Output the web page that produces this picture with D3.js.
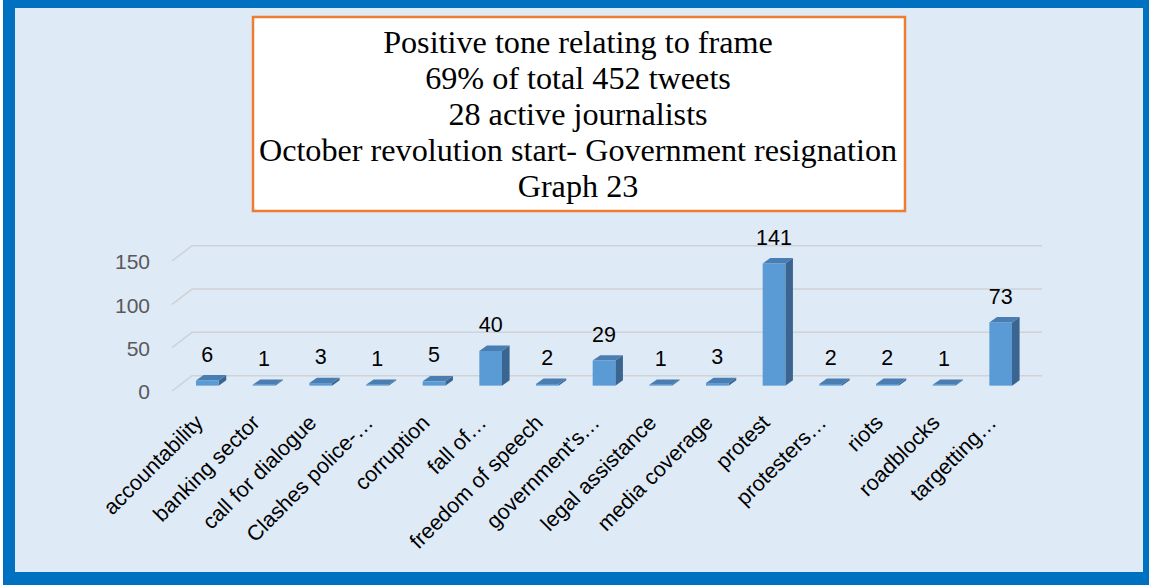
<!DOCTYPE html>
<html>
<head>
<meta charset="utf-8">
<script src="https://cdn.jsdelivr.net/npm/d3@7"></script>
<style>
  html, body { margin: 0; padding: 0; background: #ffffff; }
  svg { display: block; }
</style>
</head>
<body>
<script>
// ---- data ----
const categories = [
  "accountability", "banking sector", "call for dialogue", "Clashes police-…",
  "corruption", "fall of…", "freedom of speech", "government's…",
  "legal assistance", "media coverage", "protest", "protesters…",
  "riots", "roadblocks", "targetting…"
];
const values = [6, 1, 3, 1, 5, 40, 2, 29, 1, 3, 141, 2, 2, 1, 73];
const yTicks = [0, 50, 100, 150];
const titleLines = [
  "Positive tone relating to frame",
  "69% of total 452 tweets",
  "28 active journalists",
  "October revolution start- Government resignation",
  "Graph 23"
];

// ---- drawing ----
const W = 1149, H = 585;
const svg = d3.select("body").append("svg").attr("width", W).attr("height", H);

// frame
svg.append("rect").attr("x", 3).attr("y", 0).attr("width", W - 3).attr("height", H).attr("fill", "#0070C0");
svg.append("rect").attr("x", 15).attr("y", 8).attr("width", 1128).attr("height", 564).attr("fill", "#DEEAF6");

// title box
svg.append("rect").attr("x", 253).attr("y", 17).attr("width", 652).attr("height", 194)
  .attr("fill", "#ffffff").attr("stroke", "#ED7D31").attr("stroke-width", 2.5);
const title = svg.append("g");
titleLines.forEach((t, i) => {
  title.append("text")
    .attr("x", 578).attr("y", 53 + i * 36)
    .attr("text-anchor", "middle")
    .attr("font-family", "'Liberation Serif', 'Times New Roman', serif")
    .attr("font-size", 32.2).attr("fill", "#000")
    .text(t);
});

// chart geometry
const x0 = 172, x1 = 1022;
const depthX = 20, depthY = -15.3;
const x = d3.scaleBand().domain(categories).range([x0, x1]).paddingInner(0).paddingOuter(0);
const y = d3.scaleLinear().domain([0, 150]).range([391, 261]);

const grid = svg.append("g");
yTicks.forEach(v => {
  const yy = y(v);
  grid.append("path")
    .attr("d", `M${x0},${yy}L${x0 + depthX},${yy + depthY}L${x1 + depthX},${yy + depthY}`)
    .attr("fill", "none").attr("stroke", "#CFD2D6").attr("stroke-width", 1.5);
});

// y axis labels
const yAxis = d3.axisLeft(y).tickValues(yTicks).tickSize(0).tickPadding(0);
const yg = svg.append("g").attr("transform", `translate(150,1)`).call(yAxis);
yg.select(".domain").remove();
yg.selectAll("text")
  .attr("font-family", "'Liberation Sans', Arial, sans-serif")
  .attr("font-size", 21).attr("fill", "#595959");

// bars (3D)
const bw = x.bandwidth() * 0.4;
const bOffX = depthX * 0.35, bOffY = depthY * 0.35;
const sideX = depthX * 0.38, sideY = depthY * 0.35;
const bars = svg.append("g");
categories.forEach((c, i) => {
  const v = values[i];
  const cx = x(c) + x.bandwidth() / 2 + bOffX;
  const left = cx - bw / 2, right = cx + bw / 2;
  const bottom = y(0) + bOffY;
  const top = y(v) + bOffY;
  // side
  bars.append("path")
    .attr("d", `M${right},${bottom}L${right + sideX},${bottom + sideY}L${right + sideX},${top + sideY}L${right},${top}Z`)
    .attr("fill", "#3A6591");
  // top
  bars.append("path")
    .attr("d", `M${left},${top}L${left + sideX},${top + sideY}L${right + sideX},${top + sideY}L${right},${top}Z`)
    .attr("fill", "#4A7DB1");
  // front
  bars.append("rect")
    .attr("x", left).attr("y", top).attr("width", bw).attr("height", Math.max(0.8, bottom - top))
    .attr("fill", "#5B9BD5");
  // value label
  bars.append("text")
    .attr("x", cx).attr("y", top + sideY - 13.5)
    .attr("text-anchor", "middle")
    .attr("font-family", "'Liberation Sans', Arial, sans-serif")
    .attr("font-size", 21.5).attr("fill", "#000")
    .text(v);
  // category label
  const ax = cx - 3, ay = 424;
  bars.append("text")
    .attr("transform", `translate(${ax},${ay}) rotate(-45)`)
    .attr("text-anchor", "end")
    .attr("font-family", "'Liberation Sans', Arial, sans-serif")
    .attr("font-size", 21.5).attr("fill", "#000")
    .text(c);
});
</script>
</body>
</html>
